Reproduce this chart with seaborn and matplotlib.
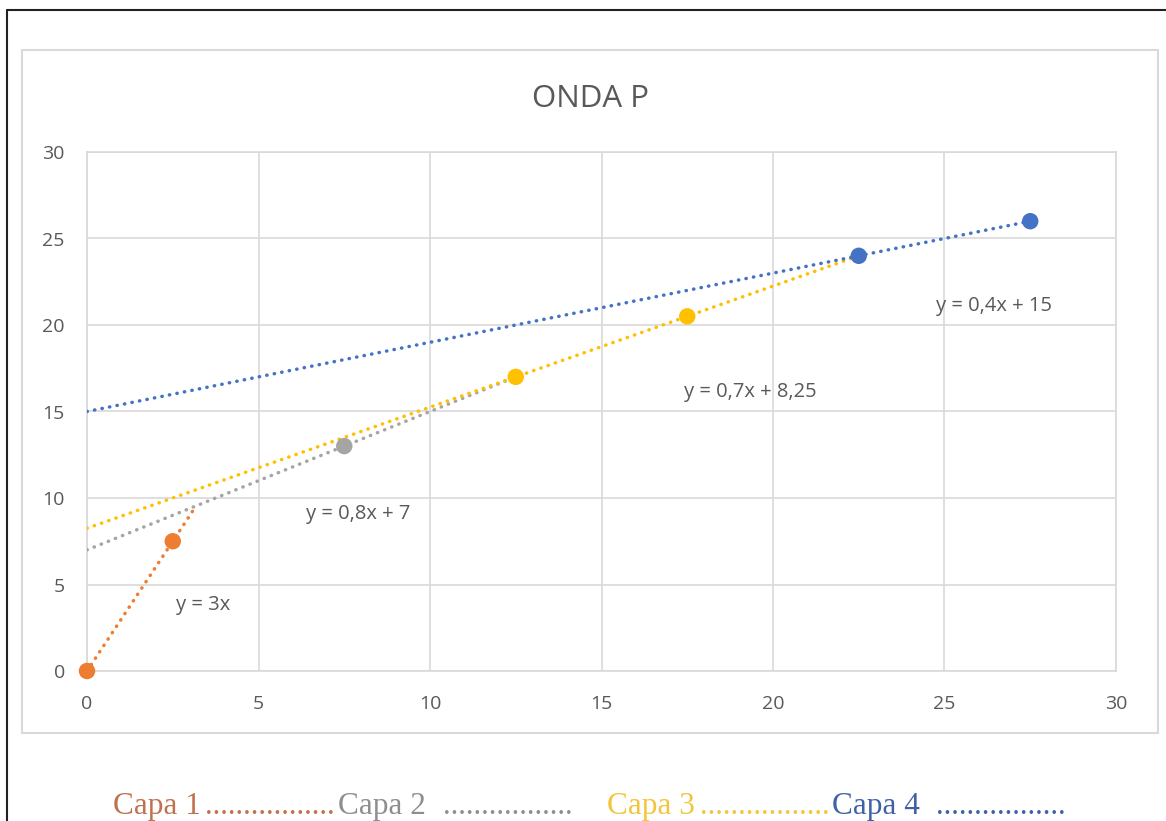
import numpy as np
import pandas as pd
import matplotlib
matplotlib.use("Agg")
import matplotlib.pyplot as plt
import seaborn as sns
from matplotlib.patches import Rectangle
from matplotlib.lines import Line2D

# Travel-time points per layer (distance, time)
capas = ["Capa 1", "Capa 2", "Capa 3", "Capa 4"]
capa1_x = [0, 2.5]
capa1_y = [0, 7.5]
capa2_x = [7.5]
capa2_y = [13]
capa3_x = [12.5, 17.5]
capa3_y = [17, 20.5]
capa4_x = [22.5, 27.5]
capa4_y = [24, 26]

# Fitted lines y = m x + b and where each one stops
slopes = [3, 0.8, 0.7, 0.4]
intercepts = [0, 7, 8.25, 15]
trend_end = [3.18, 12.5, 22.5, 27.5]
equations = ["y = 3x", "y = 0,8x + 7", "y = 0,7x + 8,25", "y = 0,4x + 15"]
eq_pos = [(3.4, 3.8), (7.9, 9.1), (19.35, 16.1), (26.45, 21.1)]

colors = ["#ED7D31", "#A5A5A5", "#FFC000", "#4472C4"]
legend_colors = ["#BE7250", "#8E8E8E", "#F2C53D", "#3F62A6"]
ticks = [0, 5, 10, 15, 20, 25, 30]

sns.set_style("white")
plt.rcParams["font.family"] = ["Open Sans", "DejaVu Sans"]

W, H = 1166, 821
fig = plt.figure(figsize=(W / 100, H / 100), dpi=100)

def fx(px):
    return px / W

def fy(py):
    return 1 - py / H

ax = fig.add_axes([fx(87), fy(671), fx(1116) - fx(87), fy(152) - fy(671)])

# Dotted trend lines
for m, b, xe, c in zip(slopes, intercepts, trend_end, colors):
    xs = np.array([0, xe])
    df = pd.DataFrame({"x": xs, "y": m * xs + b})
    sns.lineplot(data=df, x="x", y="y", ax=ax, color=c, lw=2.5,
                 linestyle=(0, (0.1, 2.1)), dash_capstyle="round", zorder=3)

# Observed points
pts = [(capa1_x, capa1_y), (capa2_x, capa2_y), (capa3_x, capa3_y), (capa4_x, capa4_y)]
for (xs, ys), c in zip(pts, colors):
    sns.scatterplot(x=xs, y=ys, ax=ax, color=c, s=140, edgecolor="none",
                    zorder=4, clip_on=False)

for txt, (x, y) in zip(equations, eq_pos):
    ax.text(x, y, txt, ha="center", va="center", fontsize=14.5, color="#595959")

ax.set_xlim(0, 30)
ax.set_ylim(0, 30)
ax.set_xticks(ticks)
ax.set_yticks(ticks)
ax.grid(True, color="#D9D9D9", lw=1.2)
ax.set_axisbelow(True)
for s in ax.spines.values():
    s.set_color("#D9D9D9")
    s.set_linewidth(1.2)
ax.tick_params(axis="both", length=0, labelsize=14, labelcolor="#595959")
ax.tick_params(axis="x", pad=17)
ax.tick_params(axis="y", pad=16)
ax.set_xlabel("")
ax.set_ylabel("")

fig.text(fx(590), fy(99), "ONDA P", ha="center", va="center",
         fontsize=22.5, color="#595959")

# Chart frame and outer page border
fig.patches.append(Rectangle((fx(22), fy(733)), fx(1158) - fx(22), fy(50) - fy(733),
                             transform=fig.transFigure, fill=False,
                             edgecolor="#D9D9D9", lw=1.5, zorder=0))
fig.lines.append(Line2D([fx(7), 1], [fy(10), fy(10)], transform=fig.transFigure,
                        color="#222222", lw=1.5))
fig.lines.append(Line2D([fx(7), fx(7)], [0, fy(10)], transform=fig.transFigure,
                        color="#222222", lw=1.5))

# Layer key below the chart: name followed by a dotted leader
key_x = [113, 338, 607, 832]
dots_x = [205, 443, 700, 936]
serif = ["Liberation Serif", "DejaVu Serif"]
for name, c, x, dx in zip(capas, legend_colors, key_x, dots_x):
    fig.text(fx(x), fy(814), name, ha="left", va="baseline",
             fontsize=22.5, color=c, family=serif)
    fig.text(fx(dx), fy(814), "." * 17, ha="left", va="baseline",
             fontsize=22, color=c, family=serif)

fig.savefig("out.png", dpi=100)
